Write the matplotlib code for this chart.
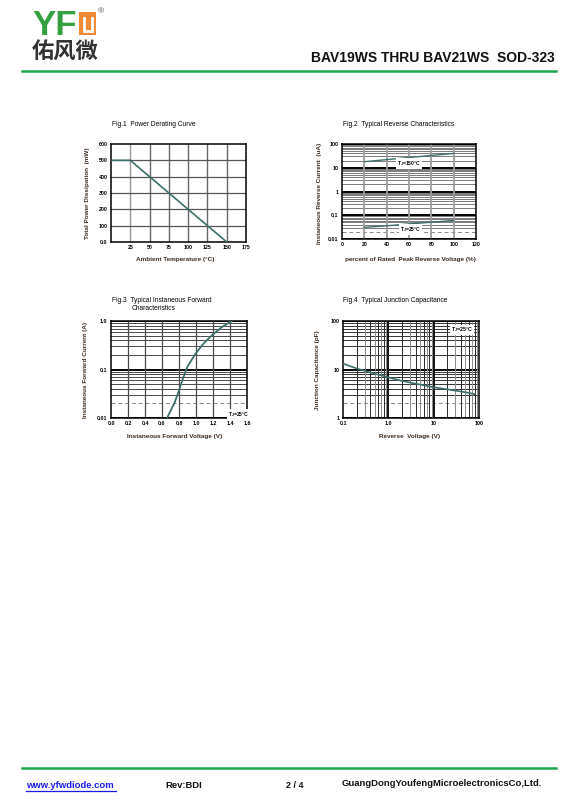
import matplotlib
matplotlib.use("Agg")
import matplotlib.pyplot as plt
import matplotlib.patches as mpatches
from matplotlib.lines import Line2D
import numpy as np

plt.rcParams['font.family'] = ['Liberation Sans', 'DejaVu Sans']
plt.rcParams['mathtext.default'] = 'regular'

# ---------------- data ----------------
# Fig.1 Power derating
fig1_temp = [0, 25, 150]
fig1_power = [500, 500, 0]
fig1_xticks = [25, 50, 75, 100, 125, 150, 175]
fig1_yticks = [0, 100, 200, 300, 400, 500, 600]
fig1_ylabels = ["0.0", "100", "200", "300", "400", "500", "600"]

# Fig.2 Reverse characteristics
fig2_pct = [20, 40, 60, 80, 100]
fig2_ir_150 = [18, 22, 27, 33, 40]
fig2_ir_25 = [0.031, 0.036, 0.043, 0.051, 0.060]
fig2_xticks = [0, 20, 40, 60, 80, 100, 120]
fig2_yticks = [0.01, 0.1, 1, 10, 100]
fig2_ylabels = ["0.01", "0.1", "1", "10", "100"]

# Fig.3 Forward characteristics
fig3_vf = [0.66, 0.70, 0.75, 0.80, 0.85, 0.90, 1.00, 1.10, 1.20, 1.30, 1.42]
fig3_if = [0.010, 0.014, 0.021, 0.037, 0.068, 0.115, 0.22, 0.36, 0.53, 0.74, 1.0]
fig3_xticks = [0.0, 0.2, 0.4, 0.6, 0.8, 1.0, 1.2, 1.4, 1.6]
fig3_yticks = [0.01, 0.1, 1.0]
fig3_ylabels = ["0.01", "0.1", "1.0"]

# Fig.4 Junction capacitance
fig4_vr = [0.1, 0.2, 0.5, 1, 2, 5, 10, 20, 50, 80]
fig4_cj = [13.2, 10.5, 8.2, 6.9, 5.8, 4.9, 4.3, 3.9, 3.4, 3.1]
fig4_xticks = [0.1, 1, 10, 100]
fig4_xlabels = ["0.1", "1.0", "10", "100"]
fig4_yticks = [1, 10, 100]
fig4_ylabels = ["1", "10", "100"]

# ---------------- figure ----------------
W, H = 568, 806
fig = plt.figure(figsize=(W / 100, H / 100), dpi=100)
fig.patch.set_facecolor('white')

GREEN = '#1fa54a'
CURVE = '#3b6f6b'
LBL = '#3d2b1f'
TICK_FS = 3.8
LAB_FS = 4.6
TIT_FS = 4.8


def rect(l, t, r, b):
    return [l / W, 1 - b / H, (r - l) / W, (b - t) / H]


def ftext(x, y, s, **kw):
    fig.text(x / W, 1 - y / H, s, **kw)


def style_axes(ax):
    for sp in ax.spines.values():
        sp.set_linewidth(1.1)
        sp.set_color('black')
    ax.tick_params(axis='both', which='both', length=0, pad=2.5,
                   labelsize=TICK_FS)
    for lab in ax.get_xticklabels() + ax.get_yticklabels():
        lab.set_fontweight('bold')


def log_hgrid(ax, dec_lo, dec_hi, minor_color, minor_lw, major_lw=1.4):
    for d in range(dec_lo, dec_hi + 1):
        base = 10.0 ** d
        ax.axhline(base, color='black', lw=major_lw, zorder=1)
        if d == dec_hi:
            continue
        for m in range(2, 10):
            if m == 2 and d == dec_lo:
                ax.axhline(m * base, color='#888888', lw=0.7, ls=(0, (4, 3)), zorder=1)
            else:
                ax.axhline(m * base, color=minor_color, lw=minor_lw, zorder=1)


# ---- Fig.1 ----
ax1 = fig.add_axes(rect(111, 144, 246, 242))
ax1.set_xlim(0, 175)
ax1.set_ylim(0, 600)
for x in fig1_xticks[:-1]:
    ax1.axvline(x, color='#666666' if x != 25 else '#9a9a9a', lw=1.0, zorder=1)
for y in fig1_yticks[1:-1]:
    ax1.axhline(y, color='#555555', lw=0.9, zorder=1)
ax1.plot(fig1_temp, fig1_power, color=CURVE, lw=1.2, zorder=3)
ax1.set_xticks(fig1_xticks)
ax1.set_xticklabels([str(v) for v in fig1_xticks])
ax1.set_yticks(fig1_yticks)
ax1.set_yticklabels(fig1_ylabels)
style_axes(ax1)
ftext(112, 125, "Fig.1  Power Derating Curve", fontsize=TIT_FS, va='center')
ftext(88, 193, "Total Power Dissipation  (mW)", fontsize=LAB_FS, fontweight='bold',
      rotation=90, ha='center', va='center', color=LBL)
ftext(175, 260, "Ambient Temperature (°C)", fontsize=LAB_FS, fontweight='bold',
      ha='center', va='center', color=LBL)

# ---- Fig.2 ----
ax2 = fig.add_axes(rect(342, 144, 476, 239))
ax2.set_yscale('log')
ax2.set_xlim(0, 120)
ax2.set_ylim(0.01, 100)
log_hgrid(ax2, -2, 2, '#7a7a7a', 0.7)
for x in fig2_xticks[1:-1]:
    ax2.axvline(x, color='#9c9c9c', lw=1.3, zorder=1.5)
ax2.plot(fig2_pct, fig2_ir_150, color=CURVE, lw=1.0, zorder=3)
ax2.plot(fig2_pct, fig2_ir_25, color=CURVE, lw=1.0, zorder=3)
ax2.text(60, 15.5, r"T$_J$=150°C", fontsize=3.6, fontweight='bold', ha='center',
         va='center', zorder=4,
         bbox=dict(facecolor='white', edgecolor='none', pad=0.6))
ax2.text(61, 0.025, r"T$_J$=25°C", fontsize=3.6, fontweight='bold', ha='center',
         va='center', zorder=4,
         bbox=dict(facecolor='white', edgecolor='none', pad=0.6))
ax2.set_xticks(fig2_xticks)
ax2.set_xticklabels([str(v) for v in fig2_xticks])
ax2.set_yticks(fig2_yticks)
ax2.set_yticklabels(fig2_ylabels)
ax2.minorticks_off()
style_axes(ax2)
ftext(343, 125, "Fig.2  Typical Reverse Characteristics", fontsize=TIT_FS, va='center')
ftext(319, 193, "Instaneous Reverse Current  (uA)", fontsize=LAB_FS, fontweight='bold',
      rotation=90, ha='center', va='center', color=LBL)
ftext(410, 259, "percent of Rated  Peak Reverse Voltage (%)", fontsize=LAB_FS,
      fontweight='bold', ha='center', va='center', color=LBL)

# ---- Fig.3 ----
ax3 = fig.add_axes(rect(111, 321, 247, 418))
ax3.set_yscale('log')
ax3.set_xlim(0, 1.6)
ax3.set_ylim(0.01, 1.0)
log_hgrid(ax3, -2, 0, '#4a4a4a', 0.7)
for x in fig3_xticks[1:-1]:
    ax3.axvline(x, color='#4a4a4a', lw=0.9, zorder=1.5)
ax3.plot(fig3_vf, fig3_if, color=CURVE, lw=1.3, zorder=3)
ax3.text(1.5, 0.0118, r"T$_J$=25°C", fontsize=3.6, fontweight='bold', ha='center',
         va='center', zorder=4,
         bbox=dict(facecolor='white', edgecolor='none', pad=0.6))
ax3.set_xticks(fig3_xticks)
ax3.set_xticklabels([f"{v:.1f}" for v in fig3_xticks])
ax3.set_yticks(fig3_yticks)
ax3.set_yticklabels(fig3_ylabels)
ax3.minorticks_off()
style_axes(ax3)
ftext(112, 301, "Fig.3  Typical Instaneous Forward", fontsize=TIT_FS, va='center')
ftext(132, 309, "Characteristics", fontsize=TIT_FS, va='center')
ftext(86, 370, "Instaneous Forward Current (A)", fontsize=LAB_FS, fontweight='bold',
      rotation=90, ha='center', va='center', color=LBL)
ftext(175, 437, "Instaneous Forward Voltage (V)", fontsize=LAB_FS, fontweight='bold',
      ha='center', va='center', color=LBL)

# ---- Fig.4 ----
ax4 = fig.add_axes(rect(343, 321, 479, 418))
ax4.set_xscale('log')
ax4.set_yscale('log')
ax4.set_xlim(0.1, 100)
ax4.set_ylim(1, 100)
log_hgrid(ax4, 0, 2, '#333333', 0.7)
for d in range(-1, 2):
    base = 10.0 ** d
    if d > -1:
        ax4.axvline(base, color='black', lw=1.3, zorder=1.5)
    for m in range(2, 10):
        c = '#2a2a2a' if m % 2 == 0 else '#8a8a8a'
        ax4.axvline(m * base, color=c, lw=0.7, zorder=1.5)
ax4.plot(fig4_vr, fig4_cj, color=CURVE, lw=1.2, zorder=3)
ax4.text(0.955, 0.955, r"T$_J$=25°C", transform=ax4.transAxes, fontsize=3.8,
         fontweight='bold', ha='right', va='top', zorder=4,
         bbox=dict(facecolor='white', edgecolor='none', pad=0.6))
ax4.set_xticks(fig4_xticks)
ax4.set_xticklabels(fig4_xlabels)
ax4.set_yticks(fig4_yticks)
ax4.set_yticklabels(fig4_ylabels)
ax4.minorticks_off()
style_axes(ax4)
ftext(343, 301, "Fig.4  Typical Junction Capacitance", fontsize=TIT_FS, va='center')
ftext(317, 370, "Junction Capacitance (pF)", fontsize=LAB_FS, fontweight='bold',
      rotation=90, ha='center', va='center', color=LBL)
ftext(410, 437, "Reverse  Voltage (V)", fontsize=LAB_FS, fontweight='bold',
      ha='center', va='center', color=LBL)

# ---------------- header ----------------
ftext(77, 35, "YF", fontsize=25, fontweight='bold', color='#35a040', va='baseline',
      ha='right')
# orange "U" block
ux0, ux1, uy0, uy1 = 79, 96, 12, 35
fig.patches.append(mpatches.Rectangle((ux0 / W, 1 - uy1 / H), (ux1 - ux0) / W,
                                      (uy1 - uy0) / H, transform=fig.transFigure,
                                      facecolor='#f08a36', edgecolor='none'))
fig.lines.append(Line2D([(ux0 + 4.5) / W, (ux0 + 4.5) / W, (ux1 - 4.5) / W, (ux1 - 4.5) / W],
                        [1 - (uy0 + 6) / H, 1 - (uy1 - 4.5) / H, 1 - (uy1 - 4.5) / H,
                         1 - (uy0 + 6) / H],
                        transform=fig.transFigure, color='white', lw=2.0,
                        solid_joinstyle='miter'))
ftext(98, 12, "®", fontsize=6, color='#555555', va='center')
ftext(32, 52, "佑风微", fontsize=16, color='#333333', va='center',
      family=['Noto Sans CJK SC', 'DejaVu Sans'], fontweight='bold')
ftext(555, 58, "BAV19WS THRU BAV21WS  SOD-323", fontsize=10, fontweight='bold',
      ha='right', va='center', color='#111111')
fig.lines.append(Line2D([22 / W, 556 / W], [1 - 71 / H, 1 - 71 / H],
                        transform=fig.transFigure, color=GREEN, lw=1.8))

# ---------------- footer ----------------
fig.lines.append(Line2D([22 / W, 556 / W], [1 - 768 / H, 1 - 768 / H],
                        transform=fig.transFigure, color=GREEN, lw=1.8))
ftext(26, 786, "www.yfwdiode.com", fontsize=6.8, fontweight='bold', color='#1a1aee',
      va='center')
fig.lines.append(Line2D([26 / W, 116 / W], [1 - 790.5 / H, 1 - 790.5 / H],
                        transform=fig.transFigure, color='#1a1aee', lw=0.9))
ftext(165, 786, "Rev:BDI", fontsize=6.8, fontweight='bold', color='#111111', va='center')
ftext(286, 786, "2 / 4", fontsize=6.5, fontweight='bold', color='#111111', va='center')
ftext(342, 783, "GuangDongYoufengMicroelectronicsCo,Ltd.", fontsize=6.8,
      fontweight='bold', color='#111111', va='center')

fig.savefig("out.png", dpi=100, facecolor='white')
